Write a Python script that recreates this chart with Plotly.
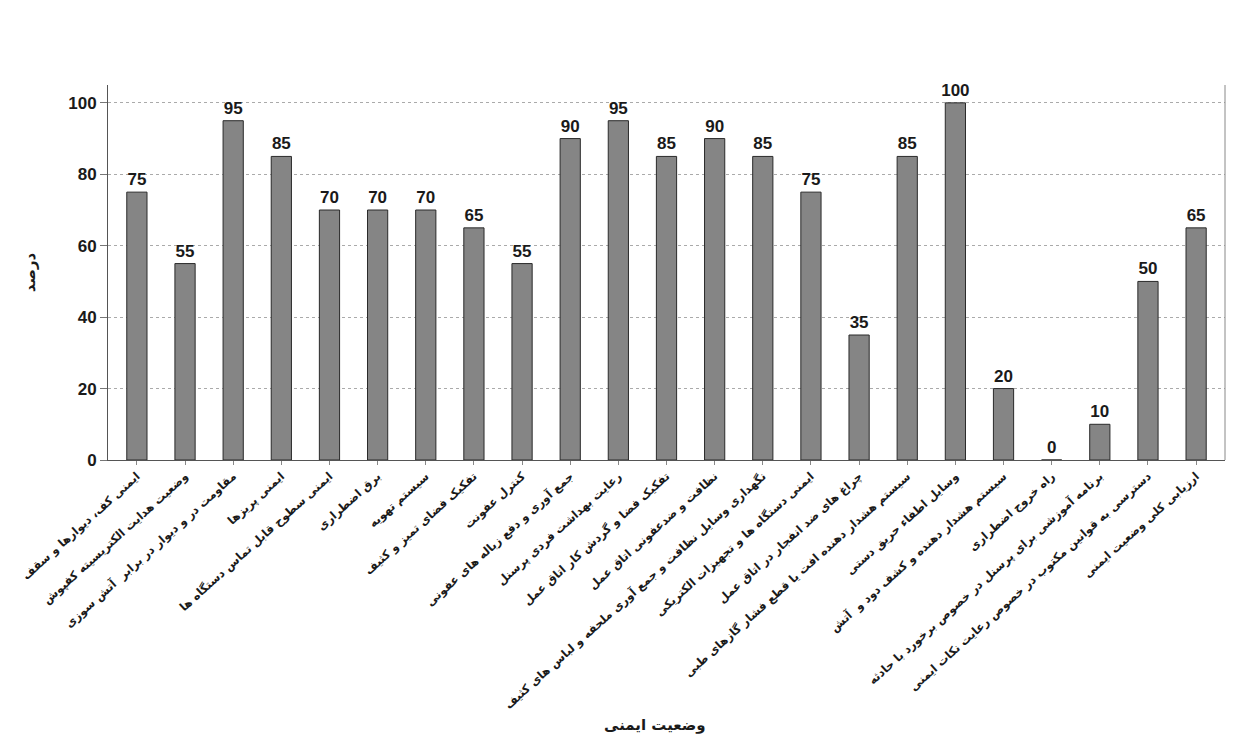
import plotly.graph_objects as go

categories = [
    "ایمنی کف، دیوارها و سقف",
    "وضعیت هدایت الکتریسیته کفپوش",
    "مقاومت در و دیوار در برابر  آتش سوزی",
    "ایمنی پریزها",
    "ایمنی سطوح قابل تماس دستگاه ها",
    "برق اضطراری",
    "سیستم تهویه",
    "تفکیک فضای تمیز و کثیف",
    "کنترل عفونت",
    "جمع آوری و دفع زباله های عفونی",
    "رعایت بهداشت فردی پرسنل",
    "تفکیک فضا و گردش کار اتاق عمل",
    "نظافت و ضدعفونی اتاق عمل",
    "نگهداری وسایل نظافت و جمع آوری ملحفه و لباس های کثیف",
    "ایمنی دستگاه ها و تجهیزات الکتریکی",
    "چراغ های ضد انفجار در اتاق عمل",
    "سیستم هشدار دهنده افت یا قطع فشار گازهای طبی",
    "وسایل اطفاء حریق دستی",
    "سیستم هشدار دهنده و کشف دود و  آتش",
    "راه خروج اضطراری",
    "برنامه آموزشی برای پرسنل در خصوص برخورد با حادثه",
    "دسترسی به قوانین مکتوب در خصوص رعایت نکات ایمنی",
    "ارزیابی کلی وضعیت ایمنی",
]
percent = [75, 55, 95, 85, 70, 70, 70, 65, 55, 90, 95, 85, 90, 85, 75, 35, 85, 100, 20, 0, 10, 50, 65]
y_ticks = [0, 20, 40, 60, 80, 100]

FONT = "Liberation Sans, Arial, DejaVu Sans, sans-serif"
AR_FONT = "DejaVu Sans, sans-serif"
INK = "#1a1a1a"

fig = go.Figure(
    go.Bar(
        x=list(range(len(categories))),
        y=percent,
        text=[f"<b>{v}</b>" for v in percent],
        textposition="outside",
        constraintext="none",
        textfont=dict(family=FONT, size=17, color=INK),
        cliponaxis=False,
        marker=dict(color="#858585", line=dict(color="#2a2a2a", width=1)),
        width=0.42,
    )
)

fig.update_layout(
    width=1233,
    height=755,
    margin=dict(l=108, r=8, t=85, b=295),
    paper_bgcolor="white",
    plot_bgcolor="white",
    showlegend=False,
    font=dict(family=FONT, color=INK),
)

fig.update_xaxes(
    tickmode="array",
    tickvals=list(range(len(categories))),
    ticktext=[f"<b>{c}</b>" for c in categories],
    tickangle=-42,
    tickfont=dict(family=AR_FONT, size=11.5, color=INK),
    range=[-0.6, len(categories) - 0.4],
    showline=True,
    linecolor="#555",
    linewidth=1,
    ticks="outside",
    ticklen=4,
    tickcolor="#888",
    showgrid=False,
    automargin=False,
)

fig.update_yaxes(
    range=[0, 105],
    tickmode="array",
    tickvals=y_ticks,
    ticktext=[f"<b>{t}</b>" for t in y_ticks],
    tickfont=dict(family=FONT, size=17, color=INK),
    showline=True,
    linecolor="#555",
    linewidth=1,
    ticks="outside",
    ticklen=7,
    tickcolor="#777",
    showgrid=True,
    gridcolor="#aaa",
    griddash="dot",
    gridwidth=1,
    zeroline=False,
    automargin=False,
    title=dict(text="<b>درصد</b>", font=dict(family=AR_FONT, size=15, color=INK), standoff=28),
)

# right-hand frame edge of the plot area
fig.add_shape(type="line", xref="paper", yref="paper", x0=1, x1=1, y0=0, y1=1,
              line=dict(color="#888", width=1))

# x-axis title sits at the foot of the page, below the slanted labels
fig.add_annotation(text="<b>وضعیت ایمنی</b>", xref="paper", yref="paper", x=0.49, y=-0.735,
                   showarrow=False, font=dict(family=AR_FONT, size=15, color=INK))

fig.write_html("out.html")
